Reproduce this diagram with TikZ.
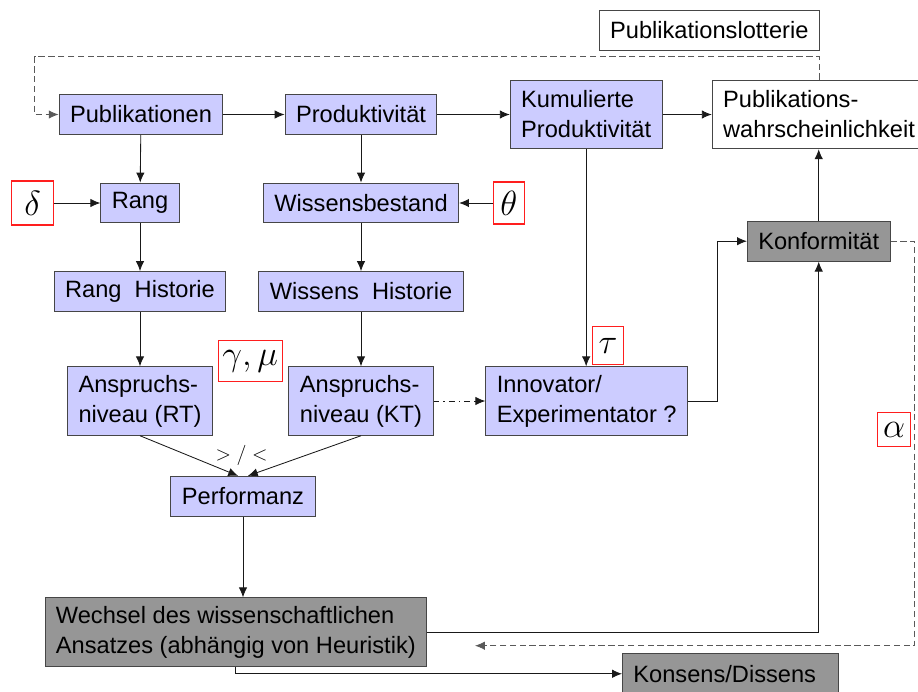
\documentclass[tikz,border=0pt]{standalone}
\usepackage{fontspec}
\setmainfont{Liberation Sans}
\usetikzlibrary{arrows.meta}
\definecolor{boxblue}{RGB}{204,204,255}
\definecolor{boxgray}{RGB}{150,150,150}
\definecolor{rimgray}{RGB}{70,70,70}
\definecolor{parred}{RGB}{255,30,30}

\begin{document}
\begin{tikzpicture}[x=0.025cm,y=-0.025cm,
    font=\fontsize{16.8}{21.3}\selectfont,
    base/.style={draw=rimgray,line width=0.7pt,inner xsep=7.8pt,inner ysep=2pt,minimum height=28.4pt,align=left},
    bluebox/.style={base,fill=boxblue},
    graybox/.style={base,fill=boxgray},
    whitebox/.style={base,fill=white},
    tall/.style={minimum height=48.7pt},
    param/.style={draw=parred,line width=0.9pt,fill=white,inner sep=1pt,font=\fontsize{24}{26}\selectfont},
    link/.style={draw=black!90,line width=0.6pt,-{Latex[length=7pt,width=6pt]}},
    loopline/.style={draw=black!65,dash pattern=on 4.5pt off 2.5pt}]
      \useasboundingbox (0,0) rectangle (918,691);

      \node[bluebox] (pub) at (141,114.5) {Publikationen};
      \node[bluebox] (prod) at (361,114.5) {Produktivität};
      \node[bluebox,tall,anchor=west] (kum) at (509.7,114.5) {Kumulierte\\Produktivität};
      \node[whitebox,tall,anchor=west] (pw) at (711.7,114.5) {Publikations-\\wahrscheinlichkeit};
      \node[whitebox] (lot) at (709.3,30.3) {Publikationslotterie};

      \node[param,minimum width=29.9pt,minimum height=31.3pt] (delta) at (32.5,203) {$\delta$};
      \node[bluebox] (rang) at (140,203) {Rang};
      \node[bluebox] (wiss) at (361,203) {Wissensbestand};
      \node[param,minimum width=22pt,minimum height=30pt] (theta) at (508.7,203) {$\theta$};
      \node[graybox] (konf) at (818.7,241.2) {Konformität};

      \node[bluebox] (ranghist) at (140,291.5) {Rang~~Historie};
      \node[bluebox] (wisshist) at (361,291.5) {Wissens~~Historie};
      \node[param,minimum width=45.5pt,minimum height=29pt] (gamu) at (250.3,361.2) {$\gamma,\mu$};
      \node[param,minimum width=22pt,minimum height=27pt] (tau) at (608,345.5) {$\tau$};

      \node[bluebox,tall] (anrt) at (140,401) {Anspruchs-\\niveau (RT)};
      \node[bluebox,tall] (ankt) at (361,401) {Anspruchs-\\niveau (KT)};
      \node[bluebox,tall] (inno) at (586.7,401) {Innovator/\\Experimentator ?};
      \node[param,minimum width=23.5pt,minimum height=24pt] (alpha) at (894,429.7) {$\alpha$};

      \node (cmp) at (241.5,455) {\fontsize{14}{16}\selectfont$>/<$};
      \node[bluebox] (perf) at (243,496.3) {Performanz};
      \node[graybox,tall,anchor=north west] (wech) at (44.5,597.3) {Wechsel des wissenschaftlichen\\Ansatzes (abhängig von Heuristik)};
      \node[graybox,anchor=north west,text width=138pt] (kons) at (622,653.3) {Konsens/Dissens};

      \draw[link] (pub) -- (prod);
      \draw[link] (prod) -- (kum);
      \draw[link] (kum) -- (pw);
      \draw[link] (pub) -- (rang);
      \draw[link] (delta) -- (rang);
      \draw[link] (prod) -- (wiss);
      \draw[link] (theta) -- (wiss);
      \draw[link] (rang) -- (ranghist);
      \draw[link] (wiss) -- (wisshist);
      \draw[link] (ranghist) -- (anrt);
      \draw[link] (wisshist) -- (ankt);
      \draw[link] (anrt.south) -- ([xshift=-3.5pt]perf.north);
      \draw[link] (ankt.south) -- ([xshift=3.5pt]perf.north);
      \draw[link,dash pattern=on 4pt off 3pt on 1pt off 3pt] (ankt) -- (inno);
      \draw[link] (kum.south) -- (kum.south |- inno.north);
      \draw[link] (inno.east) -- ++(29,0) |- (konf.west);
      \draw[link] (konf.north) -- (konf.north |- pw.south);
      \draw[link] (perf) -- (perf |- wech.north);
      \draw[link] (wech.east) -| (konf.south);
      \draw[link] (wech.south) |- (kons.west);

      \coordinate (loopcorner) at (34.7,56.7);
      \draw[link,loopline] (pw.north) |- (loopcorner) |- (pub.west);
      \coordinate (alphaturn) at (914.5,645.7);
      \coordinate (wechback) at (475,645.7);
      \draw[link,loopline] (konf.east) -| (alphaturn) -- (wechback);
    \end{tikzpicture}
\end{document}
